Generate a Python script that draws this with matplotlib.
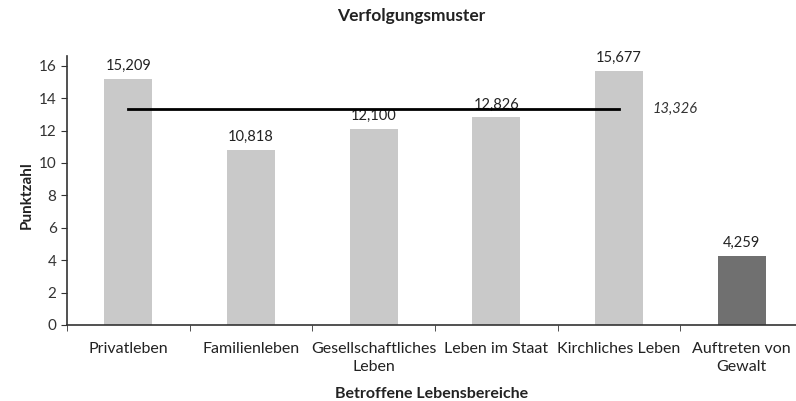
import matplotlib.pyplot as plt
import numpy as np

categories = ["Privatleben", "Familienleben", "Gesellschaftliches\nLeben",
              "Leben im Staat", "Kirchliches Leben", "Auftreten von\nGewalt"]
values = [15.209, 10.818, 12.100, 12.826, 15.677, 4.259]
value_labels = ["15,209", "10,818", "12,100", "12,826", "15,677", "4,259"]
mean_value = 13.326
mean_label = "13,326"
yticks = [0, 2, 4, 6, 8, 10, 12, 14, 16]

plt.rcParams['font.family'] = ['Lato', 'DejaVu Sans']

fig = plt.figure(figsize=(7.96, 4.01), dpi=100)
ax = fig.add_axes([67 / 796, 1 - 325 / 401, 729 / 796, 269 / 401])

x = np.arange(len(categories))
colors = ["#c9c9c9"] * 5 + ["#707070"]
ax.bar(x, values, width=0.39, color=colors, zorder=2)

for xi, v, lab in zip(x, values, value_labels):
    ax.text(xi, v + 0.35, lab, ha="center", va="bottom", fontsize=10.5, color="#222222")

# mean line across first five areas
ax.plot([x[0], x[4]], [mean_value, mean_value], color="black", lw=2, zorder=3)
ax.text(x[4] + 0.27, mean_value, mean_label, ha="left", va="center",
        fontsize=10.5, style="italic", color="#333333")

ax.set_xlim(-0.5, 5.5 - 7 / 122.7)
ax.set_ylim(0, 16.6)
ax.set_yticks(yticks)
ax.set_yticklabels([str(t) for t in yticks], fontsize=11, color="#333333")

ax.set_xticks(x)
ax.set_xticklabels(categories, fontsize=11.5, color="#222222")
for t in ax.get_xticklabels():
    t.set_linespacing(1.4)
ax.tick_params(axis="x", length=0, pad=12)
ax.set_xticks(np.arange(-0.5, 5.5, 1), minor=True)
ax.tick_params(axis="x", which="minor", length=4, direction="out", color="#333333")
ax.tick_params(axis="y", length=4, direction="out", color="#333333")

for s in ["top", "right"]:
    ax.spines[s].set_visible(False)
for s in ["left", "bottom"]:
    ax.spines[s].set_color("#333333")
    ax.spines[s].set_linewidth(1.2)

ax.set_ylabel("Punktzahl", fontsize=11, fontweight="bold", color="#222222")
ax.yaxis.set_label_coords(-0.045, 0.483)
ax.set_xlabel("Betroffene Lebensbereiche", fontsize=11.5, fontweight="bold",
              color="#222222", labelpad=9)

fig.text(411 / 796, 1 - 16 / 401, "Verfolgungsmuster", ha="center", va="center",
         fontsize=12.5, fontweight="bold", color="#222222")

fig.savefig("out.png", dpi=100)
